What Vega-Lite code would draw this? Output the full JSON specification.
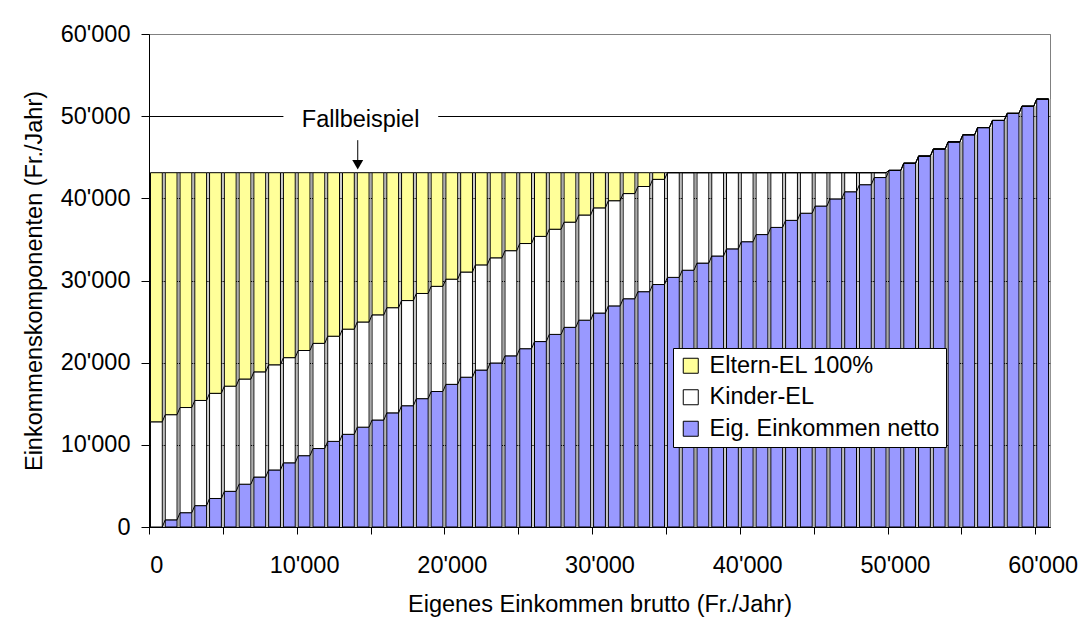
{
  "$schema": "https://vega.github.io/schema/vega-lite/v6.json",
  "width": 901,
  "height": 493,
  "autosize": {"type": "none"},
  "padding": {"left": 149, "top": 34, "right": 31, "bottom": 110},
  "background": "white",
  "config": {
    "font": "Liberation Sans",
    "view": {"stroke": "#808080", "strokeWidth": 1},
    "axis": {
      "labelFont": "Liberation Sans", "titleFont": "Liberation Sans",
      "labelFontSize": 23.5, "titleFontSize": 23.5,
      "labelColor": "black", "titleColor": "black", "titleFontWeight": "normal",
      "domainColor": "black", "tickColor": "black", "gridColor": "black",
      "gridOpacity": 1, "domainOpacity": 1, "tickOpacity": 1
    }
  },
  "datasets": {
    "bars": [
      {"x": 0, "net": 0, "kinder": 12800, "eltern": 30320},
      {"x": 1000, "net": 870, "kinder": 12800, "eltern": 29450},
      {"x": 2000, "net": 1740, "kinder": 12800, "eltern": 28580},
      {"x": 3000, "net": 2600, "kinder": 12800, "eltern": 27720},
      {"x": 4000, "net": 3470, "kinder": 12800, "eltern": 26850},
      {"x": 5000, "net": 4340, "kinder": 12800, "eltern": 25980},
      {"x": 6000, "net": 5210, "kinder": 12800, "eltern": 25110},
      {"x": 7000, "net": 6080, "kinder": 12800, "eltern": 24240},
      {"x": 8000, "net": 6940, "kinder": 12800, "eltern": 23380},
      {"x": 9000, "net": 7810, "kinder": 12800, "eltern": 22510},
      {"x": 10000, "net": 8680, "kinder": 12800, "eltern": 21640},
      {"x": 11000, "net": 9550, "kinder": 12800, "eltern": 20770},
      {"x": 12000, "net": 10420, "kinder": 12800, "eltern": 19900},
      {"x": 13000, "net": 11280, "kinder": 12800, "eltern": 19040},
      {"x": 14000, "net": 12150, "kinder": 12800, "eltern": 18170},
      {"x": 15000, "net": 13020, "kinder": 12800, "eltern": 17300},
      {"x": 16000, "net": 13890, "kinder": 12800, "eltern": 16430},
      {"x": 17000, "net": 14760, "kinder": 12800, "eltern": 15560},
      {"x": 18000, "net": 15620, "kinder": 12800, "eltern": 14700},
      {"x": 19000, "net": 16490, "kinder": 12800, "eltern": 13830},
      {"x": 20000, "net": 17360, "kinder": 12800, "eltern": 12960},
      {"x": 21000, "net": 18230, "kinder": 12800, "eltern": 12090},
      {"x": 22000, "net": 19100, "kinder": 12800, "eltern": 11220},
      {"x": 23000, "net": 19960, "kinder": 12800, "eltern": 10360},
      {"x": 24000, "net": 20830, "kinder": 12800, "eltern": 9490},
      {"x": 25000, "net": 21700, "kinder": 12800, "eltern": 8620},
      {"x": 26000, "net": 22570, "kinder": 12800, "eltern": 7750},
      {"x": 27000, "net": 23440, "kinder": 12800, "eltern": 6880},
      {"x": 28000, "net": 24300, "kinder": 12800, "eltern": 6020},
      {"x": 29000, "net": 25170, "kinder": 12800, "eltern": 5150},
      {"x": 30000, "net": 26040, "kinder": 12800, "eltern": 4280},
      {"x": 31000, "net": 26910, "kinder": 12800, "eltern": 3410},
      {"x": 32000, "net": 27780, "kinder": 12800, "eltern": 2540},
      {"x": 33000, "net": 28640, "kinder": 12800, "eltern": 1680},
      {"x": 34000, "net": 29510, "kinder": 12800, "eltern": 810},
      {"x": 35000, "net": 30380, "kinder": 12740, "eltern": 0},
      {"x": 36000, "net": 31250, "kinder": 11870, "eltern": 0},
      {"x": 37000, "net": 32120, "kinder": 11000, "eltern": 0},
      {"x": 38000, "net": 32980, "kinder": 10140, "eltern": 0},
      {"x": 39000, "net": 33850, "kinder": 9270, "eltern": 0},
      {"x": 40000, "net": 34720, "kinder": 8400, "eltern": 0},
      {"x": 41000, "net": 35590, "kinder": 7530, "eltern": 0},
      {"x": 42000, "net": 36460, "kinder": 6660, "eltern": 0},
      {"x": 43000, "net": 37320, "kinder": 5800, "eltern": 0},
      {"x": 44000, "net": 38190, "kinder": 4930, "eltern": 0},
      {"x": 45000, "net": 39060, "kinder": 4060, "eltern": 0},
      {"x": 46000, "net": 39930, "kinder": 3190, "eltern": 0},
      {"x": 47000, "net": 40800, "kinder": 2320, "eltern": 0},
      {"x": 48000, "net": 41660, "kinder": 1460, "eltern": 0},
      {"x": 49000, "net": 42530, "kinder": 590, "eltern": 0},
      {"x": 50000, "net": 43400, "kinder": 0, "eltern": 0},
      {"x": 51000, "net": 44270, "kinder": 0, "eltern": 0},
      {"x": 52000, "net": 45140, "kinder": 0, "eltern": 0},
      {"x": 53000, "net": 46000, "kinder": 0, "eltern": 0},
      {"x": 54000, "net": 46870, "kinder": 0, "eltern": 0},
      {"x": 55000, "net": 47740, "kinder": 0, "eltern": 0},
      {"x": 56000, "net": 48610, "kinder": 0, "eltern": 0},
      {"x": 57000, "net": 49480, "kinder": 0, "eltern": 0},
      {"x": 58000, "net": 50340, "kinder": 0, "eltern": 0},
      {"x": 59000, "net": 51210, "kinder": 0, "eltern": 0},
      {"x": 60000, "net": 52080, "kinder": 0, "eltern": 0}
    ]
  },
  "layer": [
    {
      "data": {"name": "bars"},
      "transform": [
        {"calculate": "datum.net + datum.kinder + datum.eltern", "as": "t"}
      ],
      "mark": {"type": "rule", "color": "#a6a6a6", "strokeWidth": 1},
      "encoding": {
        "x": {"field": "x", "type": "ordinal", "bandPosition": 1.125, "scale": {"type": "band", "paddingInner": 0.2, "paddingOuter": 0.1}},
        "y": {"field": "t", "type": "quantitative"},
        "y2": {"datum": 0}
      }
    },
    {
      "data": {"name": "bars"},
      "transform": [
        {"fold": ["net", "kinder", "eltern"], "as": ["key", "v"]},
        {"calculate": "indexof(['net','kinder','eltern'], datum.key)", "as": "ord"},
        {"stack": "v", "groupby": ["x"], "sort": [{"field": "ord", "order": "ascending"}], "as": ["y0", "y1"]}
      ],
      "mark": {"type": "bar", "stroke": "black", "strokeWidth": 1},
      "encoding": {
        "x": {
          "field": "x", "type": "ordinal",
          "scale": {"type": "band", "paddingInner": 0.2, "paddingOuter": 0.1},
          "axis": {
            "title": "Eigenes Einkommen brutto (Fr./Jahr)",
            "values": [0, 5000, 10000, 15000, 20000, 25000, 30000, 35000, 40000, 45000, 50000, 55000, 60000],
            "tickOffset": -7.385,
            "labelOffset": 7.385,
            "labelExpr": "datum.value % 10000 == 0 ? replace(format(datum.value, ','), ',', \"'\") : ''",
            "labelAngle": 0, "labelAlign": "center", "labelBaseline": "top",
            "labelOverlap": false, "labelFlush": false, "labelBound": false,
            "tickSize": 7, "labelPadding": 19, "titlePadding": 16, "grid": false
          }
        },
        "y": {
          "field": "y1", "type": "quantitative",
          "scale": {"domain": [0, 60000], "nice": false},
          "axis": {
            "title": "Einkommenskomponenten (Fr./Jahr)",
            "values": [0, 10000, 20000, 30000, 40000, 50000, 60000],
            "labelExpr": "replace(format(datum.value, ','), ',', \"'\")",
            "tickSize": 8, "labelPadding": 11, "titlePadding": 14,
            "grid": true,
            "gridColor": {"condition": {"test": "datum.value == 60000", "value": "#808080"}, "value": "black"}
          }
        },
        "y2": {"field": "y0"},
        "color": {
          "field": "key", "type": "nominal",
          "scale": {"domain": ["eltern", "kinder", "net"], "range": ["#FFFF99", "#FFFFFF", "#9999FF"]},
          "legend": {
            "orient": "none", "legendX": 524, "legendY": 314,
            "title": null, "direction": "vertical",
            "padding": 6, "strokeColor": "black", "fillColor": "white", "cornerRadius": 0,
            "symbolType": "square", "symbolSize": 225,
            "symbolStrokeColor": "black", "symbolStrokeWidth": 1, "symbolOpacity": 1,
            "labelFont": "Liberation Sans", "labelFontSize": 23.5, "labelColor": "black",
            "labelOffset": 7, "rowPadding": 6.5, "labelLimit": 400,
            "labelExpr": "datum.label == 'eltern' ? 'Eltern-EL 100%' : datum.label == 'kinder' ? 'Kinder-EL' : 'Eig. Einkommen netto'"
          }
        }
      }
    },
    {
      "data": {"name": "bars"},
      "transform": [
        {"fold": ["net", "kinder", "eltern"], "as": ["key", "v"]},
        {"calculate": "indexof(['net','kinder','eltern'], datum.key)", "as": "ord"},
        {"stack": "v", "groupby": ["x"], "sort": [{"field": "ord", "order": "ascending"}], "as": ["y0", "y1"]},
        {"window": [{"op": "lead", "field": "x", "as": "nx"}, {"op": "lead", "field": "y1", "as": "ny"}], "groupby": ["key"], "sort": [{"field": "x", "order": "ascending"}]},
        {"filter": "datum.nx != null"}
      ],
      "mark": {"type": "rule", "color": "black", "strokeWidth": 1},
      "encoding": {
        "x": {"field": "x", "type": "ordinal", "bandPosition": 1, "scale": {"type": "band", "paddingInner": 0.2, "paddingOuter": 0.1}},
        "x2": {"field": "nx", "bandPosition": 0},
        "y": {"field": "y1", "type": "quantitative"},
        "y2": {"field": "ny"}
      }
    },
    {
      "data": {"values": [{"a": 9000, "b": 19000, "lo": 49000, "hi": 51000}]},
      "mark": {"type": "rect", "color": "white"},
      "encoding": {
        "x": {"field": "a", "type": "ordinal", "bandPosition": 0, "scale": {"type": "band", "paddingInner": 0.2, "paddingOuter": 0.1}},
        "x2": {"field": "b", "bandPosition": 0.6},
        "y": {"field": "lo", "type": "quantitative"},
        "y2": {"field": "hi"}
      }
    },
    {
      "data": {"values": [{"x": 14000, "top": 47080, "bottom": 44600}]},
      "mark": {"type": "rule", "color": "black", "strokeWidth": 1},
      "encoding": {
        "x": {"field": "x", "type": "ordinal", "bandPosition": 0.04, "scale": {"type": "band", "paddingInner": 0.2, "paddingOuter": 0.1}},
        "y": {"field": "top", "type": "quantitative"},
        "y2": {"field": "bottom"}
      }
    },
    {
      "data": {"values": [{"x": 14000, "tip": 44100}]},
      "mark": {"type": "point", "shape": "triangle-down", "filled": true, "color": "black", "size": 120, "opacity": 1},
      "encoding": {
        "x": {"field": "x", "type": "ordinal", "bandPosition": 0.04, "scale": {"type": "band", "paddingInner": 0.2, "paddingOuter": 0.1}},
        "y": {"field": "tip", "type": "quantitative"}
      }
    },
    {
      "data": {"values": [{"x": 14000, "y": 48660, "label": "Fallbeispiel"}]},
      "mark": {"type": "text", "font": "Liberation Sans", "fontSize": 23.5, "color": "black", "align": "center", "baseline": "alphabetic"},
      "encoding": {
        "x": {"field": "x", "type": "ordinal", "bandPosition": 0.28, "scale": {"type": "band", "paddingInner": 0.2, "paddingOuter": 0.1}},
        "y": {"field": "y", "type": "quantitative"},
        "text": {"field": "label"}
      }
    }
  ]
}
